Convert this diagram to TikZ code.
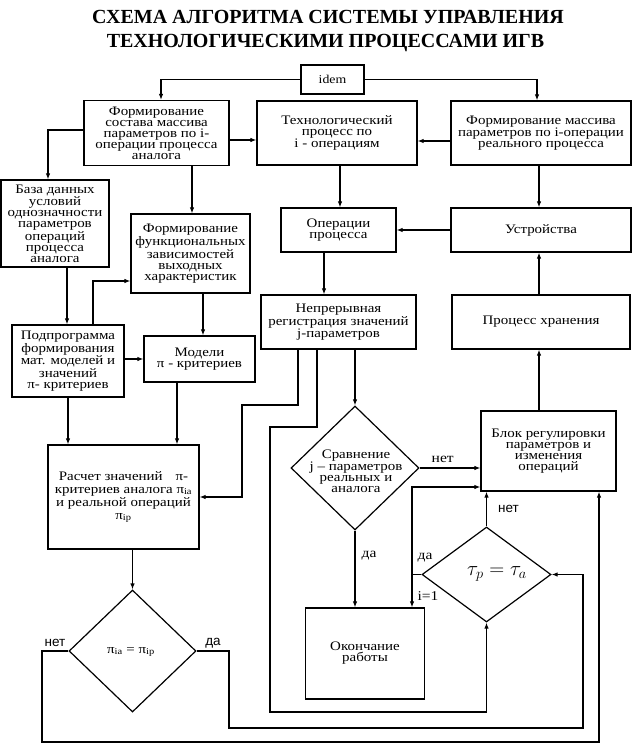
\documentclass[tikz,border=0pt]{standalone}
\usepackage{fontspec}
\setmainfont{Liberation Serif}[FakeStretch=1.15]
\newfontfamily\titlefont{Liberation Serif}
\newfontfamily\lblsans{Liberation Sans}
\usetikzlibrary{arrows.meta, shapes.geometric}

\begin{document}
\begin{tikzpicture}[x=1pt, y=-1pt,
                blk/.style={draw, rectangle, line width=1.2pt, align=center, inner sep=0pt, font=\fontsize{13}{11}\selectfont},
                dia/.style={draw, diamond, line width=1.2pt, inner sep=0pt},
                arr/.style={-{Latex[length=6pt, width=4.5pt]}, line width=1.2pt},
                lbl/.style={inner sep=0pt, font=\fontsize{13.5}{13.5}\selectfont},
                lbs/.style={inner sep=0pt, font=\lblsans\fontsize{13.5}{13.5}\selectfont}]

                \useasboundingbox[fill=white] (0,0) rectangle (632,743);

                % Title
                \node[anchor=base, font=\titlefont\bfseries\fontsize{20}{20}\selectfont] (ttl1) at (328,24) {СХЕМА АЛГОРИТМА СИСТЕМЫ УПРАВЛЕНИЯ};
                \node[anchor=base, font=\titlefont\bfseries\fontsize{20}{20}\selectfont] (ttl2) at (325.5,48) {ТЕХНОЛОГИЧЕСКИМИ ПРОЦЕССАМИ ИГВ};

                % Start
                \node[blk, minimum width=63pt, minimum height=29pt, font=\fontsize{12}{12}\selectfont] (idem) at (332.5,79.5) {idem};

                % Row 1
                \node[blk, minimum width=145pt, minimum height=65pt] (A) at (156.5,133) {Формирование\\состава массива\\параметров по i-\\операции процесса\\аналога};
                \node[blk, minimum width=160pt, minimum height=64pt] (D) at (337,133) {Технологический\\процесс по\\i - операциям};
                \node[blk, minimum width=180pt, minimum height=64pt] (H) at (541,133) {Формирование массива\\параметров по i-операции\\реального процесса};

                % Left column
                \node[blk, minimum width=108pt, minimum height=87pt] (baza) at (55,223.5) {База данных\\условий\\однозначности\\параметров\\операций\\процесса\\аналога};
                \node[blk, minimum width=119pt, minimum height=79pt] (C) at (190.5,253.5) {Формирование\\функциональных\\зависимостей\\выходных\\характеристик};
                \node[blk, minimum width=112pt, minimum height=72pt] (E) at (68,361) {Подпрограмма\\формирования\\мат. моделей и\\значений\\π- критериев};
                \node[blk, minimum width=111pt, minimum height=46pt] (F) at (199.5,359) {Модели\\π - критериев};
                \node[blk, minimum width=151pt, minimum height=104pt, font=\fontsize{13}{13}\selectfont] (G) at (123.5,497) {Расчет значений\quad π-\\критериев аналога π\textsubscript{ia}\\и реальной операций\\π\textsubscript{ip}};

                % Middle and right
                \node[blk, minimum width=115pt, minimum height=44pt] (oper) at (338.5,230) {Операции\\процесса};
                \node[blk, minimum width=180pt, minimum height=44pt] (ustr) at (541,230) {Устройства};
                \node[blk, minimum width=155pt, minimum height=54pt] (nepr) at (338.5,322) {Непрерывная\\регистрация значений\\j-параметров};
                \node[blk, minimum width=178pt, minimum height=54pt] (hran) at (541,322) {Процесс хранения};
                \node[blk, minimum width=135pt, minimum height=80pt] (blok) at (548.5,451) {Блок регулировки\\параметров и\\изменения\\операций};
                \node[blk, minimum width=119pt, minimum height=91pt] (okon) at (365,653.5) {Окончание\\работы};

                % Decisions
                \node[dia, minimum width=128pt, minimum height=124pt] (srav) at (355,468) {};
                \node[lbl, align=center, font=\fontsize{13}{11}\selectfont] (sravt) at (356,471) {Сравнение\\j – параметров\\реальных и\\аналога};
                \node[dia, minimum width=129pt, minimum height=95pt] (tau) at (486.5,574.5) {};
                \node[inner sep=0pt, font=\fontsize{20}{20}\selectfont] (taut) at (497,574) {$\tau_p=\tau_a$};
                \node[dia, minimum width=127pt, minimum height=122pt] (pi) at (132.5,651) {};
                \node[inner sep=0pt, font=\fontsize{13}{13}\selectfont] (pit) at (131,652) {π\textsubscript{ia} = π\textsubscript{ip}};

                % Edges from idem
                \draw[arr] (idem.west) -| ([xshift=4.5pt]A.north);
                \draw[arr] (idem.east) -| ([xshift=-4pt]H.north);

                % Edges, row 1
                \draw[arr] ([yshift=-7pt]A.east) -- ([yshift=-7pt]D.west);
                \draw[arr] ([yshift=-8pt]H.west) -- ([yshift=-8pt]D.east);
                \draw[arr] ([yshift=3pt]A.west) -| ([xshift=-7pt]baza.north);
                \draw[arr] ([xshift=35.5pt]A.south) -- ([xshift=1.5pt]C.north);
                \draw[arr] ([xshift=3pt]D.south) -- ([xshift=1.5pt]oper.north);
                \draw[arr] ([xshift=-2pt]H.south) -- ([xshift=-2pt]ustr.north);

                % Edges, left column
                \draw[arr] ([xshift=12pt]baza.south) -- ([xshift=-1pt]E.north);
                \draw[arr] ([xshift=25pt]E.north) |- ([yshift=-27.5pt]C.west);
                \draw[arr] ([xshift=12.5pt]C.south) -- ([xshift=3.5pt]F.north);
                \draw[arr] ([yshift=2pt]E.east) -- (F.west);
                \draw[arr] (E.south) -- ([xshift=-55.5pt]G.north);
                \draw[arr] ([xshift=-22.5pt]F.south) -- ([xshift=53.5pt]G.north);
                \draw[arr] ([xshift=9pt]G.south) -- (pi.north);

                % Edges, middle and right
                \draw[arr] (ustr.west) -- (oper.east);
                \draw[arr] ([xshift=-14.5pt]oper.south) -- ([xshift=-14.5pt]nepr.north);
                \draw[arr] ([xshift=-2pt]hran.north) -- ([xshift=-2pt]ustr.south);
                \draw[arr] ([xshift=-9.5pt]blok.north) -- ([xshift=-2pt]hran.south);
                \draw[arr] ([xshift=16.5pt]nepr.south) -- (srav.north);
                \draw[arr] ([xshift=-40.5pt]nepr.south) -- (298,405) -- (242,405) |- (G.east);
                \draw[arr] ([xshift=-21.5pt]nepr.south) -- (317,427) -- (270,427) -- (270,712) -| (tau.south);

                % Decisions, yes / no
                \draw[arr] (srav.south) -- ([xshift=-10pt]okon.north) node[lbl, pos=0.33, right=6pt] {да};
                \draw[arr] (srav.east) -- ([yshift=-17pt]blok.west) node[lbl, pos=0.38, above=5pt] {нет};
                \draw[arr] (tau.north) -- ([xshift=-62pt]blok.south) node[lbs, midway, right=11pt] {нет};
                \coordinate (tj) at (412,574.5);
                \draw[arr] (tau.west) -- (tj) -- ([xshift=47pt]okon.north);
                \draw[arr] (tj) |- ([yshift=-36pt]blok.west);
                \node[lbl] (da2) at (425,558) {да};
                \node[lbl] (i1) at (428,596) {i=1};
                \draw[arr] (pi.east) -- (229,651) -- (229,728) -- (583,728) |- (tau.east);
                \draw[arr] (pi.west) -- (42,651) -- (42,742) -- (599,742) -- ([xshift=50.5pt]blok.south);
                \node[lbs] (net1) at (55,643) {нет};
                \node[lbs] (da1) at (213,643) {да};
            \end{tikzpicture}
\end{document}
